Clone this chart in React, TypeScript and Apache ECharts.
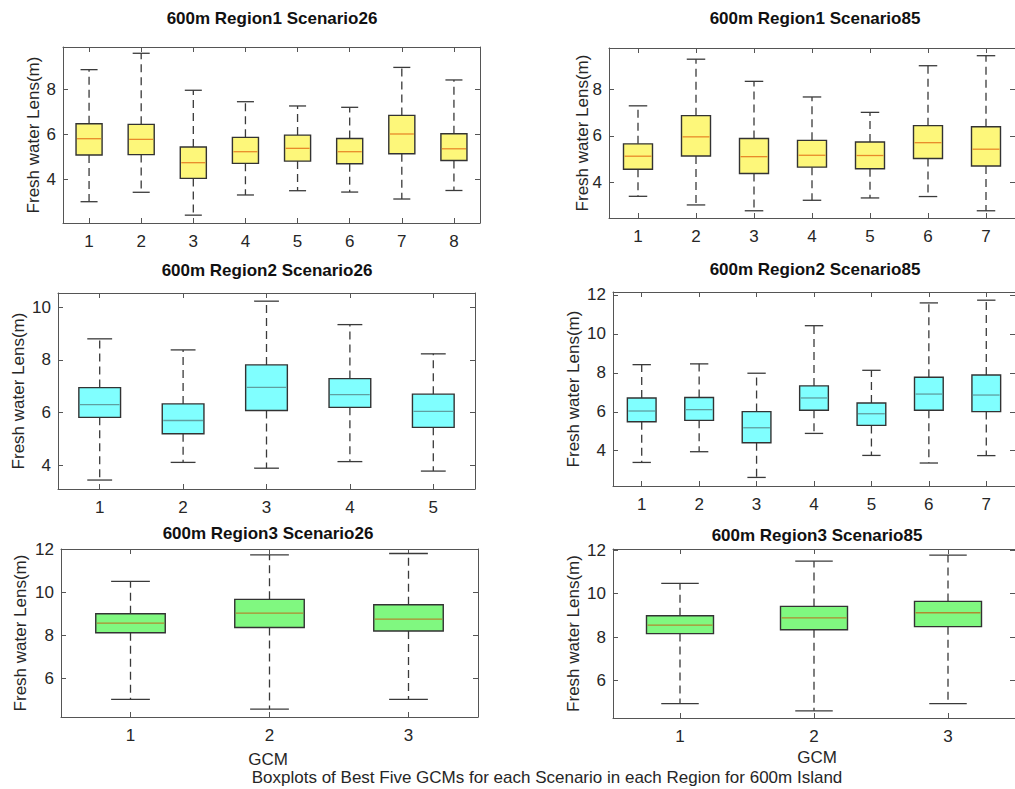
import React, { useEffect, useRef } from "react";
import * as echarts from "echarts";

// Each row: [lower whisker, Q1, median, Q3, upper whisker] of fresh water lens thickness (m)
const region1Scenario26GCMs = ["1", "2", "3", "4", "5", "6", "7", "8"];
const region1Scenario26Stats = [
  [2.99, 5.07, 5.8, 6.47, 8.88],
  [3.41, 5.09, 5.77, 6.44, 9.61],
  [2.39, 4.03, 4.73, 5.43, 7.96],
  [3.29, 4.7, 5.22, 5.86, 7.45],
  [3.48, 4.8, 5.37, 5.96, 7.26],
  [3.42, 4.68, 5.22, 5.81, 7.2],
  [3.11, 5.13, 6.01, 6.84, 8.98],
  [3.49, 4.83, 5.35, 6.02, 8.42],
];

const region1Scenario85GCMs = ["1", "2", "3", "4", "5", "6", "7"];
const region1Scenario85Stats = [
  [3.41, 4.57, 5.13, 5.66, 7.29],
  [3.04, 5.14, 5.96, 6.87, 9.29],
  [2.79, 4.39, 5.11, 5.89, 8.34],
  [3.24, 4.66, 5.17, 5.81, 7.67],
  [3.34, 4.59, 5.16, 5.74, 7.01],
  [3.4, 5.03, 5.71, 6.44, 9.01],
  [2.79, 4.71, 5.43, 6.39, 9.44],
];

const region2Scenario26GCMs = ["1", "2", "3", "4", "5"];
const region2Scenario26Stats = [
  [3.44, 5.82, 6.3, 6.95, 8.8],
  [4.11, 5.2, 5.7, 6.33, 8.38],
  [3.89, 6.08, 6.96, 7.81, 10.23],
  [4.14, 6.2, 6.68, 7.29, 9.34],
  [3.78, 5.44, 6.05, 6.7, 8.23],
];

const region2Scenario85GCMs = ["1", "2", "3", "4", "5", "6", "7"];
const region2Scenario85Stats = [
  [3.4, 5.49, 6.04, 6.71, 8.42],
  [3.95, 5.56, 6.11, 6.73, 8.46],
  [2.63, 4.41, 5.18, 6.01, 7.98],
  [4.89, 6.08, 6.71, 7.33, 10.42],
  [3.76, 5.3, 5.9, 6.45, 8.13],
  [3.37, 6.08, 6.91, 7.77, 11.59],
  [3.75, 6.01, 6.86, 7.89, 11.73],
];

const region3Scenario26GCMs = ["1", "2", "3"];
const region3Scenario26Stats = [
  [5.0, 8.11, 8.56, 9.0, 10.51],
  [4.55, 8.36, 9.03, 9.67, 11.75],
  [5.0, 8.19, 8.75, 9.42, 11.81],
];

const region3Scenario85GCMs = ["1", "2", "3"];
const region3Scenario85Stats = [
  [4.94, 8.16, 8.55, 8.98, 10.47],
  [4.61, 8.34, 8.88, 9.41, 11.49],
  [4.94, 8.48, 9.12, 9.64, 11.77],
];

const panelTitles = [
  "600m Region1 Scenario26",
  "600m Region1 Scenario85",
  "600m Region2 Scenario26",
  "600m Region2 Scenario85",
  "600m Region3 Scenario26",
  "600m Region3 Scenario85",
];

const yAxisTitle = "Fresh water Lens(m)";
const xAxisTitle = "GCM";
const figureCaption =
  "Boxplots of Best Five GCMs for each Scenario in each Region for 600m Island";

// Row colours: box fill and median line
const rowStyles = [
  { fill: "#fdf77a", median: "#e88a2a" },
  { fill: "#80ffff", median: "#5f9fa0" },
  { fill: "#80f880", median: "#b08a30" },
];

const FONT = '"Liberation Sans", Arial, sans-serif';
const AXIS_COLOR = "#555555";
const TEXT_COLOR = "#262626";

const panels = [
  {
    cats: region1Scenario26GCMs, stats: region1Scenario26Stats, row: 0,
    grid: { left: 63, top: 47, width: 417, height: 176 }, yMin: 2.04, yMax: 9.89,
    title: [272, 18], yNameX: 33,
  },
  {
    cats: region1Scenario85GCMs, stats: region1Scenario85Stats, row: 0,
    grid: { left: 609, top: 48, width: 418, height: 170 }, yMin: 2.48, yMax: 9.77,
    title: [815, 18], yNameX: 582,
  },
  {
    cats: region2Scenario26GCMs, stats: region2Scenario26Stats, row: 1,
    grid: { left: 58, top: 293, width: 417, height: 196 }, yMin: 3.1, yMax: 10.54,
    title: [267, 270], yNameX: 18,
  },
  {
    cats: region2Scenario85GCMs, stats: region2Scenario85Stats, row: 1,
    grid: { left: 613, top: 292, width: 409, height: 194 }, yMin: 2.19, yMax: 12.15,
    title: [815, 269], yNameX: 573,
  },
  {
    cats: region3Scenario26GCMs, stats: region3Scenario26Stats, row: 2,
    grid: { left: 61, top: 549, width: 417, height: 168 }, yMin: 4.18, yMax: 12.02,
    title: [268, 533], yNameX: 20,
  },
  {
    cats: region3Scenario85GCMs, stats: region3Scenario85Stats, row: 2,
    grid: { left: 613, top: 549, width: 411, height: 169 }, yMin: 4.28, yMax: 12.05,
    title: [817, 535], yNameX: 573,
  },
];

function makeRenderItem(fill: string, medianColor: string) {
  return (params: any, api: any) => {
    const idx = api.value(0);
    const lo = api.coord([idx, api.value(1)]);
    const q1 = api.coord([idx, api.value(2)]);
    const med = api.coord([idx, api.value(3)]);
    const q3 = api.coord([idx, api.value(4)]);
    const hi = api.coord([idx, api.value(5)]);
    const band = api.size([1, 0])[0];
    const cx = lo[0];
    const half = band * 0.25;
    const cap = band * 0.125 + 2;
    const whisker = { stroke: "#3a3a3a", lineWidth: 1.3, lineDash: [8, 5] };
    const solid = { stroke: "#3a3a3a", lineWidth: 1.3 };
    return {
      type: "group",
      children: [
        { type: "line", shape: { x1: cx, y1: q3[1], x2: cx, y2: hi[1] }, style: whisker },
        { type: "line", shape: { x1: cx, y1: q1[1], x2: cx, y2: lo[1] }, style: whisker },
        { type: "line", shape: { x1: cx - cap, y1: hi[1], x2: cx + cap, y2: hi[1] }, style: solid },
        { type: "line", shape: { x1: cx - cap, y1: lo[1], x2: cx + cap, y2: lo[1] }, style: solid },
        {
          type: "rect",
          shape: { x: cx - half, y: q3[1], width: half * 2, height: q1[1] - q3[1] },
          style: { fill, stroke: "#333333", lineWidth: 1.4 },
        },
        {
          type: "line",
          shape: { x1: cx - half + 1, y1: med[1], x2: cx + half - 1, y2: med[1] },
          style: { stroke: medianColor, lineWidth: 1.3 },
        },
      ],
    };
  };
}

function buildOption() {
  const grids: any[] = [];
  const xAxes: any[] = [];
  const yAxes: any[] = [];
  const series: any[] = [];
  const graphics: any[] = [];

  panels.forEach((p, i) => {
    grids.push({ ...p.grid, containLabel: false });
    const axisLine = { show: true, lineStyle: { color: AXIS_COLOR, width: 1 } };
    const tick = { show: true, inside: true, length: 5, lineStyle: { color: AXIS_COLOR } };
    xAxes.push({
      type: "category", gridIndex: i, data: p.cats, position: "bottom", boundaryGap: true,
      axisLine, axisTick: { ...tick, alignWithLabel: true },
      axisLabel: { color: TEXT_COLOR, fontSize: 17, fontFamily: FONT, margin: 10 },
      splitLine: { show: false },
    });
    xAxes.push({
      type: "category", gridIndex: i, data: p.cats, position: "top", boundaryGap: true,
      axisLine, axisTick: { ...tick, alignWithLabel: true },
      axisLabel: { show: false }, splitLine: { show: false },
    });
    const yCommon = {
      type: "value", gridIndex: i, min: p.yMin, max: p.yMax, splitNumber: 4,
      axisLine, axisTick: tick, splitLine: { show: false },
    };
    yAxes.push({
      ...yCommon, position: "left",
      axisLabel: {
        color: TEXT_COLOR, fontSize: 17, fontFamily: FONT, margin: 7,
        showMinLabel: false, showMaxLabel: false,
        formatter: (v: number) => (Math.abs(v - Math.round(v)) < 1e-6 ? String(Math.round(v)) : ""),
      },
    });
    yAxes.push({ ...yCommon, position: "right", axisLabel: { show: false } });

    const style = rowStyles[p.row];
    series.push({
      type: "custom",
      xAxisIndex: i * 2,
      yAxisIndex: i * 2,
      renderItem: makeRenderItem(style.fill, style.median),
      data: p.stats.map((s, k) => [k, ...s]),
      encode: { x: 0, y: [1, 2, 3, 4, 5] },
      silent: true,
    });

    graphics.push({
      type: "text", x: p.title[0], y: p.title[1],
      style: {
        text: panelTitles[i], font: `bold 17px ${FONT}`, fill: "#111111",
        align: "center", verticalAlign: "middle",
      },
    });
    graphics.push({
      type: "text", x: p.yNameX, y: p.grid.top + p.grid.height / 2, rotation: Math.PI / 2,
      style: {
        text: yAxisTitle, font: `17px ${FONT}`, fill: TEXT_COLOR,
        align: "center", verticalAlign: "middle",
      },
    });
  });

  graphics.push({
    type: "text", x: 268, y: 759,
    style: { text: xAxisTitle, font: `17px ${FONT}`, fill: TEXT_COLOR, align: "center", verticalAlign: "middle" },
  });
  graphics.push({
    type: "text", x: 817, y: 757,
    style: { text: xAxisTitle, font: `17px ${FONT}`, fill: TEXT_COLOR, align: "center", verticalAlign: "middle" },
  });
  graphics.push({
    type: "text", x: 547, y: 777,
    style: { text: figureCaption, font: `17px ${FONT}`, fill: TEXT_COLOR, align: "center", verticalAlign: "middle" },
  });

  return {
    animation: false,
    backgroundColor: "#ffffff",
    grid: grids,
    xAxis: xAxes,
    yAxis: yAxes,
    series,
    graphic: graphics,
  };
}

export default function App() {
  const ref = useRef<HTMLDivElement>(null);
  useEffect(() => {
    if (!ref.current) return;
    const chart = echarts.init(ref.current, undefined, { renderer: "svg" });
    chart.setOption(buildOption() as any);
    return () => chart.dispose();
  }, []);
  return (
    <div
      ref={ref}
      style={{ position: "absolute", left: 0, top: 0, width: 1015, height: 789, background: "#fff" }}
    />
  );
}
